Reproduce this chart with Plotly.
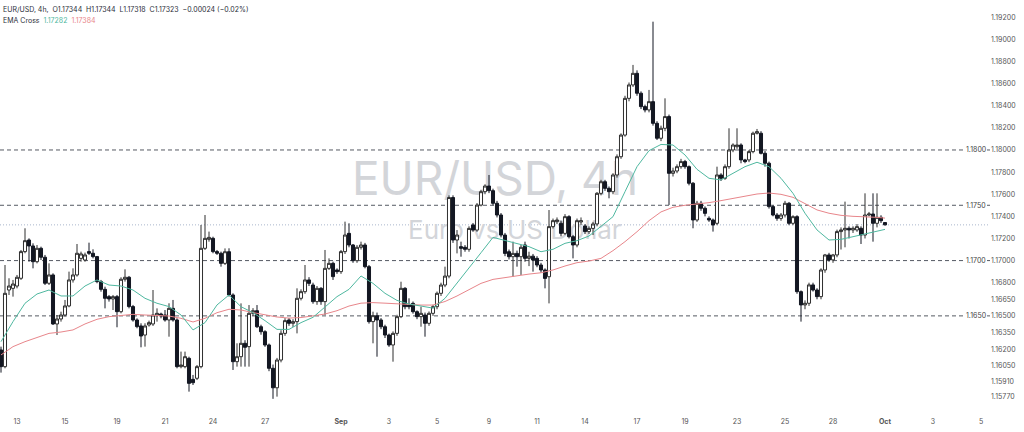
import plotly.graph_objects as go

# 4h EUR/USD candles, 12 Aug 08:00 -> 1 Oct 00:00 (bar index = position on the time scale)
OPEN = [
    1.16192, 1.16041, 1.16734, 1.16749, 1.16770, 1.16840, 1.17081, 1.17186, 1.17132, 1.16990,
    1.17111, 1.17030, 1.16795, 1.16870, 1.16427, 1.16472, 1.16508, 1.16590, 1.16825, 1.16870,
    1.17020, 1.17005, 1.17081, 1.17066, 1.17036, 1.16810, 1.16740, 1.16674, 1.16653, 1.16674,
    1.16538, 1.16831, 1.16849, 1.16584, 1.16463, 1.16409, 1.16327, 1.16418, 1.16427, 1.16508,
    1.16517, 1.16508, 1.16463, 1.16568, 1.16463, 1.16041, 1.16041, 1.16116, 1.15926, 1.15936,
    1.16041, 1.17111, 1.17192, 1.17201, 1.17081, 1.17066, 1.16975, 1.17080, 1.16689, 1.16086,
    1.16131, 1.16252, 1.16222, 1.16523, 1.16547, 1.16402, 1.16357, 1.16237, 1.16026, 1.15850,
    1.16101, 1.16342, 1.16463, 1.16433, 1.16448, 1.16659, 1.16719, 1.16825, 1.16779, 1.16629,
    1.16749, 1.16629, 1.16930, 1.16975, 1.16915, 1.16900, 1.17081, 1.17246, 1.17141, 1.16999,
    1.17120, 1.17141, 1.16945, 1.16448, 1.16502, 1.16463, 1.16402, 1.16327, 1.16237, 1.16342,
    1.16493, 1.16749, 1.16598, 1.16613, 1.16538, 1.16493, 1.16508, 1.16433, 1.16523, 1.16583,
    1.16704, 1.16779, 1.16860, 1.17570, 1.17186, 1.17126, 1.17120, 1.17102, 1.17322, 1.17276,
    1.17502, 1.17623, 1.17674, 1.17632, 1.17518, 1.17412, 1.17231, 1.17080, 1.17035, 1.17065,
    1.17035, 1.17141, 1.17020, 1.17040, 1.17020, 1.16960, 1.16915, 1.16854, 1.17307, 1.17352,
    1.17337, 1.17246, 1.17397, 1.17216, 1.17141, 1.17349, 1.17313, 1.17262, 1.17291, 1.17331,
    1.17608, 1.17713, 1.17653, 1.17623, 1.17774, 1.17939, 1.18135, 1.18467, 1.18588, 1.18693,
    1.18513, 1.18392, 1.18362, 1.18437, 1.18241, 1.18106, 1.18196, 1.18302, 1.17789, 1.17810,
    1.17849, 1.17895, 1.17849, 1.17699, 1.17367, 1.17518, 1.17473, 1.17382, 1.17367, 1.17337,
    1.17774, 1.17744, 1.17849, 1.18000, 1.18030, 1.18045, 1.17910, 1.17910, 1.17985, 1.18151,
    1.18151, 1.17970, 1.17880, 1.17488, 1.17412, 1.17382, 1.17412, 1.17518, 1.17337, 1.17397,
    1.16719, 1.16599, 1.16614, 1.16780, 1.16734, 1.16674, 1.16915, 1.17051, 1.17006, 1.17051,
    1.17262, 1.17277, 1.17292, 1.17277, 1.17277, 1.17292, 1.17231, 1.17412, 1.17421, 1.17337,
    1.17391, 1.17344,
]
HIGH = [
    1.16222, 1.16960, 1.16840, 1.16825, 1.16870, 1.17096, 1.17292, 1.17201, 1.17156, 1.17141,
    1.17126, 1.17051, 1.16975, 1.16885, 1.16508, 1.16538, 1.16644, 1.16900, 1.16930, 1.17150,
    1.17081, 1.17072, 1.17162, 1.17102, 1.17042, 1.16825, 1.16764, 1.16689, 1.16689, 1.16689,
    1.16849, 1.16921, 1.16861, 1.16599, 1.16478, 1.16433, 1.16433, 1.16457, 1.16734, 1.16568,
    1.16529, 1.16553, 1.16614, 1.16644, 1.16478, 1.16177, 1.16177, 1.16131, 1.15966, 1.16056,
    1.17322, 1.17412, 1.17262, 1.17216, 1.17096, 1.17081, 1.17110, 1.17111, 1.16704, 1.16252,
    1.16613, 1.16280, 1.16598, 1.16570, 1.16598, 1.16420, 1.16370, 1.16250, 1.16060, 1.16120,
    1.16370, 1.16480, 1.16480, 1.16470, 1.16749, 1.16740, 1.16960, 1.16850, 1.16800, 1.16770,
    1.16760, 1.17096, 1.17020, 1.16990, 1.16930, 1.17096, 1.17352, 1.17337, 1.17150, 1.17140,
    1.17171, 1.17160, 1.16960, 1.16538, 1.16530, 1.16480, 1.16420, 1.16340, 1.16360, 1.16510,
    1.16809, 1.16760, 1.16659, 1.16630, 1.16550, 1.16583, 1.16530, 1.16540, 1.16600, 1.16720,
    1.16800, 1.16945, 1.17590, 1.17590, 1.17276, 1.17171, 1.17140, 1.17310, 1.17340, 1.17520,
    1.17640, 1.17690, 1.17774, 1.17650, 1.17540, 1.17430, 1.17250, 1.17100, 1.17171, 1.17090,
    1.17141, 1.17171, 1.17080, 1.17060, 1.17040, 1.16980, 1.16930, 1.17457, 1.17380, 1.17390,
    1.17360, 1.17420, 1.17410, 1.17230, 1.17380, 1.17390, 1.17330, 1.17310, 1.17350, 1.17620,
    1.17730, 1.17730, 1.17670, 1.17790, 1.17960, 1.18150, 1.18490, 1.18610, 1.18769, 1.18720,
    1.18530, 1.18410, 1.18543, 1.19160, 1.18260, 1.18220, 1.18467, 1.18320, 1.17840, 1.17870,
    1.17920, 1.17910, 1.17860, 1.17710, 1.17540, 1.17540, 1.17490, 1.17400, 1.17380, 1.17849,
    1.17790, 1.17870, 1.18196, 1.18060, 1.18196, 1.18060, 1.17920, 1.18000, 1.18166, 1.18190,
    1.18170, 1.17990, 1.17895, 1.17500, 1.17430, 1.17430, 1.17540, 1.17530, 1.17410, 1.17410,
    1.16730, 1.16640, 1.16800, 1.16800, 1.16750, 1.16930, 1.17060, 1.17070, 1.17060, 1.17280,
    1.17300, 1.17533, 1.17310, 1.17310, 1.17330, 1.17310, 1.17608, 1.17440, 1.17608, 1.17608,
    1.17410, 1.17344,
]
LOW = [
    1.15987, 1.16026, 1.16689, 1.16674, 1.16749, 1.16825, 1.17066, 1.16990, 1.16930, 1.16975,
    1.17005, 1.16779, 1.16779, 1.16418, 1.16327, 1.16448, 1.16493, 1.16578, 1.16801, 1.16855,
    1.16990, 1.16990, 1.17051, 1.17020, 1.16795, 1.16719, 1.16568, 1.16629, 1.16553, 1.16397,
    1.16523, 1.16810, 1.16568, 1.16448, 1.16388, 1.16216, 1.16222, 1.16403, 1.16409, 1.16448,
    1.16478, 1.16448, 1.16312, 1.16448, 1.16026, 1.16026, 1.16026, 1.15815, 1.15875, 1.15920,
    1.16026, 1.17096, 1.17171, 1.17066, 1.17051, 1.16945, 1.16960, 1.16674, 1.16011, 1.16041,
    1.16041, 1.16041, 1.16041, 1.16500, 1.16390, 1.16330, 1.16220, 1.16000, 1.15750, 1.15770,
    1.16080, 1.16320, 1.16410, 1.16400, 1.16342, 1.16640, 1.16700, 1.16770, 1.16610, 1.16600,
    1.16600, 1.16508, 1.16915, 1.16825, 1.16880, 1.16880, 1.17060, 1.17120, 1.16980, 1.16980,
    1.17100, 1.16930, 1.16430, 1.16252, 1.16131, 1.16380, 1.16300, 1.16220, 1.16086, 1.16320,
    1.16480, 1.16560, 1.16560, 1.16520, 1.16470, 1.16402, 1.16312, 1.16410, 1.16500, 1.16560,
    1.16680, 1.16760, 1.16840, 1.17160, 1.17065, 1.17035, 1.17080, 1.17080, 1.17260, 1.17260,
    1.17490, 1.17600, 1.17610, 1.17500, 1.17390, 1.17210, 1.17040, 1.17010, 1.16854, 1.16945,
    1.16870, 1.16990, 1.16950, 1.16900, 1.16940, 1.16890, 1.16749, 1.16613, 1.17290, 1.17330,
    1.17220, 1.17230, 1.17200, 1.17020, 1.17120, 1.17320, 1.17240, 1.17240, 1.17231, 1.17310,
    1.17590, 1.17630, 1.17563, 1.17600, 1.17750, 1.17920, 1.18120, 1.18440, 1.18570, 1.18490,
    1.18370, 1.18340, 1.18340, 1.18220, 1.18090, 1.18080, 1.18170, 1.17503, 1.17760, 1.17790,
    1.17830, 1.17830, 1.17680, 1.17292, 1.17350, 1.17450, 1.17400, 1.17350, 1.17262, 1.17320,
    1.17720, 1.17730, 1.17830, 1.17980, 1.18010, 1.17880, 1.17880, 1.17890, 1.17970, 1.18140,
    1.17960, 1.17849, 1.17470, 1.17400, 1.17360, 1.17360, 1.17390, 1.17320, 1.17320, 1.16700,
    1.16448, 1.16560, 1.16590, 1.16720, 1.16650, 1.16650, 1.16890, 1.16990, 1.16980, 1.17030,
    1.17100, 1.17120, 1.17200, 1.17250, 1.17260, 1.17150, 1.17200, 1.17400, 1.17171, 1.17300,
    1.17340, 1.17318,
]
CLOSE = [
    1.16041, 1.16704, 1.16770, 1.16788, 1.16849, 1.17081, 1.17180, 1.17132, 1.16990, 1.17111,
    1.17030, 1.16795, 1.16870, 1.16427, 1.16472, 1.16508, 1.16590, 1.16825, 1.16870, 1.17066,
    1.17060, 1.17051, 1.17066, 1.17036, 1.16810, 1.16740, 1.16659, 1.16653, 1.16674, 1.16538,
    1.16831, 1.16849, 1.16584, 1.16463, 1.16403, 1.16318, 1.16409, 1.16439, 1.16508, 1.16523,
    1.16499, 1.16463, 1.16568, 1.16463, 1.16041, 1.16056, 1.16131, 1.15890, 1.15896, 1.16041,
    1.17111, 1.17201, 1.17210, 1.17081, 1.17066, 1.16975, 1.17080, 1.16689, 1.16086, 1.16131,
    1.16252, 1.16216, 1.16523, 1.16547, 1.16402, 1.16357, 1.16237, 1.16026, 1.15850, 1.16101,
    1.16342, 1.16457, 1.16433, 1.16448, 1.16659, 1.16719, 1.16825, 1.16794, 1.16629, 1.16749,
    1.16629, 1.16930, 1.16975, 1.16855, 1.16900, 1.17081, 1.17231, 1.17141, 1.16999, 1.17120,
    1.17141, 1.16945, 1.16448, 1.16502, 1.16463, 1.16402, 1.16327, 1.16237, 1.16342, 1.16493,
    1.16749, 1.16583, 1.16583, 1.16538, 1.16493, 1.16523, 1.16433, 1.16523, 1.16583, 1.16704,
    1.16779, 1.16860, 1.17570, 1.17186, 1.17231, 1.17111, 1.17102, 1.17291, 1.17276, 1.17502,
    1.17623, 1.17674, 1.17632, 1.17518, 1.17412, 1.17231, 1.17065, 1.17035, 1.17065, 1.17035,
    1.17120, 1.17020, 1.17040, 1.17005, 1.16960, 1.16915, 1.16839, 1.17307, 1.17361, 1.17367,
    1.17246, 1.17397, 1.17216, 1.17141, 1.17361, 1.17361, 1.17262, 1.17291, 1.17331, 1.17608,
    1.17713, 1.17653, 1.17623, 1.17774, 1.17939, 1.18135, 1.18467, 1.18588, 1.18693, 1.18513,
    1.18392, 1.18362, 1.18437, 1.18241, 1.18106, 1.18196, 1.18302, 1.17789, 1.17810, 1.17849,
    1.17895, 1.17849, 1.17699, 1.17367, 1.17518, 1.17473, 1.17427, 1.17367, 1.17322, 1.17774,
    1.17744, 1.17849, 1.18000, 1.18045, 1.18045, 1.17910, 1.17895, 1.17985, 1.18151, 1.18166,
    1.17970, 1.17880, 1.17488, 1.17412, 1.17382, 1.17412, 1.17518, 1.17337, 1.17397, 1.16719,
    1.16599, 1.16614, 1.16780, 1.16734, 1.16674, 1.16915, 1.17051, 1.17006, 1.17051, 1.17262,
    1.17277, 1.17292, 1.17277, 1.17292, 1.17307, 1.17231, 1.17412, 1.17421, 1.17337, 1.17391,
    1.17361, 1.17323,
]
BARS = list(range(len(CLOSE)))

# EMA Cross lines every third bar
EMA_BARS = [
    0, 3, 6, 9, 12, 15, 18, 21, 24, 27, 30, 33, 36, 39, 42, 45, 48, 51, 54, 57,
    60, 63, 66, 69, 72, 75, 78, 81, 84, 87, 90, 93, 96, 99, 102, 105, 108, 111, 114, 117,
    120, 123, 126, 129, 132, 135, 138, 141, 144, 147, 150, 153, 156, 159, 162, 165, 168, 171, 174, 177,
    180, 183, 186, 189, 192, 195, 198, 201, 204, 207, 210, 213, 216, 219, 221,
]
EMA_FAST = [
    1.16267, 1.16448, 1.16614, 1.16698, 1.16734, 1.16680, 1.16680, 1.16770, 1.16825, 1.16779,
    1.16770, 1.16734, 1.16659, 1.16614, 1.16584, 1.16508, 1.16373, 1.16439, 1.16599, 1.16689,
    1.16583, 1.16529, 1.16457, 1.16378, 1.16378, 1.16439, 1.16487, 1.16577, 1.16674, 1.16740,
    1.16861, 1.16794, 1.16704, 1.16640, 1.16607, 1.16589, 1.16570, 1.16659, 1.16800, 1.16933,
    1.17071, 1.17210, 1.17180, 1.17156, 1.17126, 1.17080, 1.17102, 1.17156, 1.17180, 1.17222,
    1.17307, 1.17397, 1.17623, 1.17849, 1.17994, 1.18050, 1.18045, 1.17955, 1.17825, 1.17744,
    1.17729, 1.17789, 1.17849, 1.17889, 1.17849, 1.17744, 1.17608, 1.17428, 1.17277, 1.17186,
    1.17192, 1.17216, 1.17241, 1.17268, 1.17282,
]
EMA_SLOW = [
    1.16147, 1.16222, 1.16267, 1.16306, 1.16342, 1.16354, 1.16373, 1.16427, 1.16469, 1.16493,
    1.16505, 1.16514, 1.16508, 1.16502, 1.16499, 1.16478, 1.16445, 1.16478, 1.16529, 1.16560,
    1.16553, 1.16530, 1.16510, 1.16490, 1.16480, 1.16485, 1.16500, 1.16517, 1.16547, 1.16589,
    1.16615, 1.16620, 1.16615, 1.16610, 1.16600, 1.16598, 1.16598, 1.16630, 1.16680, 1.16740,
    1.16794, 1.16830, 1.16848, 1.16866, 1.16878, 1.16890, 1.16915, 1.16951, 1.16981, 1.16996,
    1.17020, 1.17090, 1.17171, 1.17261, 1.17361, 1.17440, 1.17482, 1.17500, 1.17509, 1.17524,
    1.17542, 1.17560, 1.17578, 1.17602, 1.17611, 1.17599, 1.17572, 1.17518, 1.17458, 1.17428,
    1.17409, 1.17400, 1.17397, 1.17391, 1.17384,
]

DATE_TICKS = [4, 16, 29, 41, 53, 66, 85, 97, 109, 122, 134, 146, 159, 171, 184, 196, 208, 221, 233, 245]
DATE_LABELS = ["13", "15", "19", "21", "24", "27", "<b>Sep</b>", "3", "5", "9", "11", "14",
               "17", "19", "23", "25", "28", "<b>Oct</b>", "3", "5"]
PRICE_TICKS = [1.192, 1.190, 1.188, 1.186, 1.184, 1.182, 1.180, 1.178, 1.176, 1.174, 1.172,
               1.170, 1.168, 1.1665, 1.165, 1.1635, 1.162, 1.1605, 1.1591, 1.1577]
LEVELS = [1.1800, 1.1750, 1.1700, 1.1650]
LAST_PRICE = 1.17323

FONT = "Inter, Roboto, sans-serif"
TEXT = "#2a2e39"
TEAL = "#4fb8a0"
RED = "#e8868b"

fig = go.Figure()

fig.add_trace(go.Candlestick(
    x=BARS, open=OPEN, high=HIGH, low=LOW, close=CLOSE,
    increasing=dict(fillcolor="#ffffff", line=dict(color="#2f2f2f", width=1)),
    decreasing=dict(fillcolor="#131722", line=dict(color="#131722", width=1)),
    whiskerwidth=0,
    hoverinfo="skip",
))
fig.add_trace(go.Scatter(x=EMA_BARS, y=EMA_SLOW, mode="lines",
                         line=dict(color=RED, width=1), hoverinfo="skip"))
fig.add_trace(go.Scatter(x=EMA_BARS, y=EMA_FAST, mode="lines",
                         line=dict(color=TEAL, width=1), hoverinfo="skip"))

shapes = []
for level in LEVELS:
    shapes.append(dict(type="line", xref="paper", x0=0, x1=1, yref="y", y0=level, y1=level,
                       line=dict(color="#555a63", width=1, dash="4px,3px"), layer="below"))
shapes.append(dict(type="line", xref="paper", x0=0, x1=1, yref="y", y0=LAST_PRICE, y1=LAST_PRICE,
                   line=dict(color="#a9b6cc", width=1, dash="1px,2px"), layer="below"))

# watermark, kept under the candles
shapes.append(dict(type="rect", xref="paper", yref="paper", x0=0.3, x1=0.7, y0=0.505, y1=0.635,
                   line=dict(width=0), fillcolor="rgba(0,0,0,0)", layer="below",
                   label=dict(text="EUR/USD, 4h", textposition="middle center",
                              font=dict(family=FONT, size=46, color="#d3d5d9"))))
shapes.append(dict(type="rect", xref="paper", yref="paper", x0=0.35, x1=0.69, y0=0.40, y1=0.49,
                   line=dict(width=0), fillcolor="rgba(0,0,0,0)", layer="below",
                   label=dict(text="Euro vs US Dollar", textposition="middle center",
                              font=dict(family=FONT, size=26, color="#d3d5d9"))))

annotations = []
for level in LEVELS:
    annotations.append(dict(xref="paper", x=1, xanchor="right", xshift=-3, yref="y", y=level,
                            text=f"{level:.4f}", showarrow=False, bgcolor="#ffffff", borderpad=0,
                            font=dict(family=FONT, size=7, color="#444")))

nb = "\u00a0"
legend1 = (f"EUR/USD, 4h,{nb*2}O1.17344{nb*2}H1.17344{nb*2}L1.17318{nb*2}C1.17323"
           f"{nb*2}\u22120.00024 (\u22120.02%)")
legend2 = (f"EMA Cross{nb*2}<span style='color:{TEAL}'>1.17282</span>"
           f"{nb*2}<span style='color:{RED}'>1.17384</span>")
annotations.append(dict(xref="paper", yref="paper", x=0, y=1, xanchor="left", yanchor="top",
                        xshift=1, yshift=-3, text=legend1, showarrow=False,
                        font=dict(family=FONT, size=7, color=TEXT)))
annotations.append(dict(xref="paper", yref="paper", x=0, y=1, xanchor="left", yanchor="top",
                        xshift=1, yshift=-14, text=legend2, showarrow=False,
                        font=dict(family=FONT, size=7, color=TEXT)))

fig.update_layout(
    width=1024, height=432,
    margin=dict(l=0, r=34, t=0, b=20),
    paper_bgcolor="#ffffff", plot_bgcolor="#ffffff",
    showlegend=False, boxgap=0.1, boxgroupgap=0.15,
    font=dict(family=FONT, size=7, color="#555"),
    shapes=shapes, annotations=annotations,
)
fig.update_xaxes(
    range=[-0.25, 247.25], rangeslider=dict(visible=False),
    tickmode="array", tickvals=DATE_TICKS, ticktext=DATE_LABELS,
    showgrid=False, zeroline=False, showline=False, ticks="", ticklen=0,
    tickfont=dict(family=FONT, size=7, color="#555"), ticklabelstandoff=4,
)
fig.update_yaxes(
    side="right", range=[1.15631, 1.19356],
    tickmode="array", tickvals=PRICE_TICKS, ticktext=[f"{v:.5f}" for v in PRICE_TICKS],
    showgrid=False, zeroline=False, showline=False, ticks="", ticklen=0,
    tickfont=dict(family=FONT, size=7, color="#555"), ticklabelstandoff=0,
)

# the page body has a default 8px margin; drop it so the figure sits at the window corner
fig.write_html("out.html", config={"displayModeBar": False},
               post_script="document.body.style.margin = '0';")
